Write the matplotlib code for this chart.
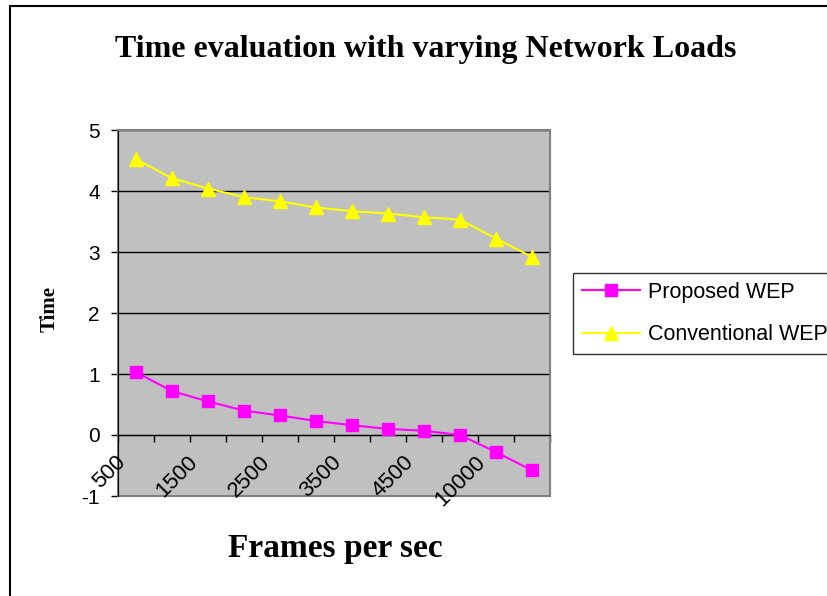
import numpy as np
import matplotlib
matplotlib.use('Agg')
import matplotlib.pyplot as plt
from matplotlib.patches import Rectangle

# frames per second categories (only every other one is labelled on the axis)
frames = ['500', '1000', '1500', '2000', '2500', '3000', '3500', '4000',
          '4500', '5000', '10000', '20000']
proposed_wep = [1.03, 0.72, 0.55, 0.40, 0.32, 0.23, 0.16, 0.10, 0.07, 0.00, -0.28, -0.58]
conventional_wep = [4.52, 4.21, 4.04, 3.90, 3.83, 3.73, 3.67, 3.63, 3.57, 3.53, 3.22, 2.92]
y_ticks = [-1, 0, 1, 2, 3, 4, 5]

sans = 'Liberation Sans'
serif = 'Liberation Serif'

fig = plt.figure(figsize=(8.27, 5.96), dpi=100)
fig.patch.set_facecolor('white')
ax = fig.add_axes([118/827, 1 - 496/596, (550-118)/827, (496-130)/596])
ax.set_facecolor('#C0C0C0')

x = np.arange(len(frames))
ax.plot(x, proposed_wep, color='#FF00FF', lw=1.5, marker='s', ms=8.5,
        label='Proposed WEP', zorder=4, clip_on=False)
ax.plot(x, conventional_wep, color='#FFFF00', lw=1.5, marker='^', ms=10.5,
        label='Conventional WEP', zorder=4, clip_on=False)

ax.set_xlim(-0.5, len(frames) - 0.5)
ax.set_ylim(-1, 5)
ax.set_yticks(y_ticks)
ax.set_yticklabels([str(v) for v in y_ticks], fontfamily=sans, fontsize=15)
ax.yaxis.grid(True, color='black', lw=1)
ax.set_axisbelow(True)
ax.tick_params(axis='y', direction='out', length=5, width=1, pad=8)

# category axis crosses at zero
ax.spines['bottom'].set_position(('data', 0))
ax.spines['bottom'].set_color('black')
ax.spines['left'].set_color('black')
ax.spines['top'].set_color('#808080')
ax.spines['right'].set_color('#808080')
ax.add_patch(Rectangle((0, 0), 1, 1, transform=ax.transAxes, fill=False,
                       edgecolor='#808080', lw=1.5, zorder=1, clip_on=False))
ax.set_xticks(np.arange(-0.5, len(frames), 1.0))
ax.set_xticklabels([])
ax.tick_params(axis='x', direction='out', length=5, width=1)
for i in range(0, len(frames), 2):
    ax.annotate(frames[i], (i, 0), xytext=(-15, -12), textcoords='offset points',
                rotation=45, rotation_mode='anchor', ha='right', va='top',
                fontfamily=sans, fontsize=16, zorder=5)

fig.text(426/827, 1 - 50/596, 'Time evaluation with varying Network Loads',
         ha='center', va='center', fontfamily=serif, fontweight='bold', fontsize=23)
fig.text(335/827, 1 - 548/596, 'Frames per sec', ha='center', va='center',
         fontfamily=serif, fontweight='bold', fontsize=24)
fig.text(50/827, 1 - 309/596, 'Time', ha='center', va='center', rotation=90,
         fontfamily=serif, fontweight='bold', fontsize=15)

leg = ax.legend(loc='upper left', bbox_to_anchor=(573/827, 1 - 273/596),
                bbox_transform=fig.transFigure, frameon=True, fancybox=False,
                borderaxespad=0, borderpad=0.4, handlelength=2.7,
                handletextpad=0.4, labelspacing=1.0,
                prop={'family': sans, 'size': 15.5})
leg.get_frame().set_edgecolor('black')
leg.get_frame().set_linewidth(1)

# chart border
fig.patches.append(Rectangle((10/827, -0.05), 1.0, 1 - 6/596 + 0.05,
                             transform=fig.transFigure, fill=False,
                             edgecolor='black', lw=1.5))

fig.savefig('out.png', dpi=100)
